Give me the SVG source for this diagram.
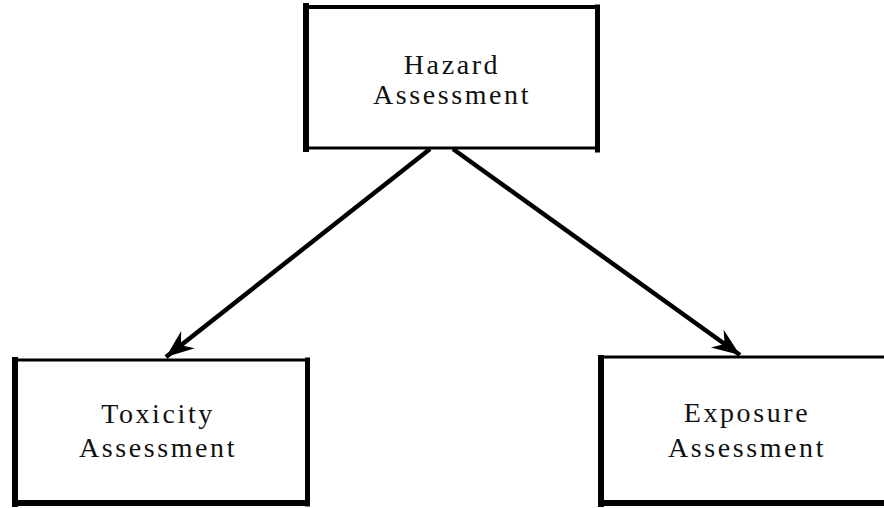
<svg xmlns="http://www.w3.org/2000/svg" width="884" height="508" viewBox="0 0 884 508">
  <style>
    .edge { stroke: #000; fill: none; stroke-linecap: square; }
    .label { font-family: "Liberation Serif", "Times New Roman", serif; font-size: 28px; letter-spacing: 2.6px; fill: #111; text-anchor: middle; }
    .conn { stroke: #000; stroke-width: 4.5; fill: none; }
  </style>
  <defs>
    <marker id="arrow" markerUnits="userSpaceOnUse" markerWidth="32" markerHeight="26" refX="28" refY="11" orient="auto">
      <path d="M0,0 L28,11 L0,22 L9,11 Z" fill="#000"/>
    </marker>
  </defs>
  <rect width="884" height="508" fill="#fff"/>

  <g id="connectors">
    <line class="conn" x1="430" y1="149" x2="166" y2="357" marker-end="url(#arrow)"/>
    <line class="conn" x1="453" y1="149" x2="740" y2="355" marker-end="url(#arrow)"/>
  </g>

  <g id="hazard">
    <line class="edge" x1="306" y1="6" x2="306" y2="149" stroke-width="6"/>
    <line class="edge" x1="305" y1="7" x2="596" y2="7" stroke-width="4"/>
    <line class="edge" x1="597.5" y1="7" x2="597.5" y2="150" stroke-width="5"/>
    <line class="edge" x1="305" y1="148" x2="596" y2="148" stroke-width="3"/>
    <text class="label" x="452" y="74">Hazard</text>
    <text class="label" x="452" y="104">Assessment</text>
  </g>

  <g id="toxicity">
    <line class="edge" x1="15" y1="360" x2="15" y2="504" stroke-width="6"/>
    <line class="edge" x1="14" y1="360" x2="306" y2="360" stroke-width="3"/>
    <line class="edge" x1="307.5" y1="360" x2="307.5" y2="504" stroke-width="5"/>
    <line class="edge" x1="15" y1="503" x2="306" y2="503" stroke-width="6"/>
    <text class="label" x="158" y="423">Toxicity</text>
    <text class="label" x="158" y="457">Assessment</text>
  </g>

  <g id="exposure">
    <line class="edge" x1="601" y1="358" x2="601" y2="504" stroke-width="6"/>
    <line class="edge" x1="600" y1="357" x2="890" y2="357" stroke-width="3"/>
    <line class="edge" x1="601" y1="503" x2="890" y2="503" stroke-width="6"/>
    <text class="label" x="747" y="422">Exposure</text>
    <text class="label" x="747" y="457">Assessment</text>
  </g>
</svg>
